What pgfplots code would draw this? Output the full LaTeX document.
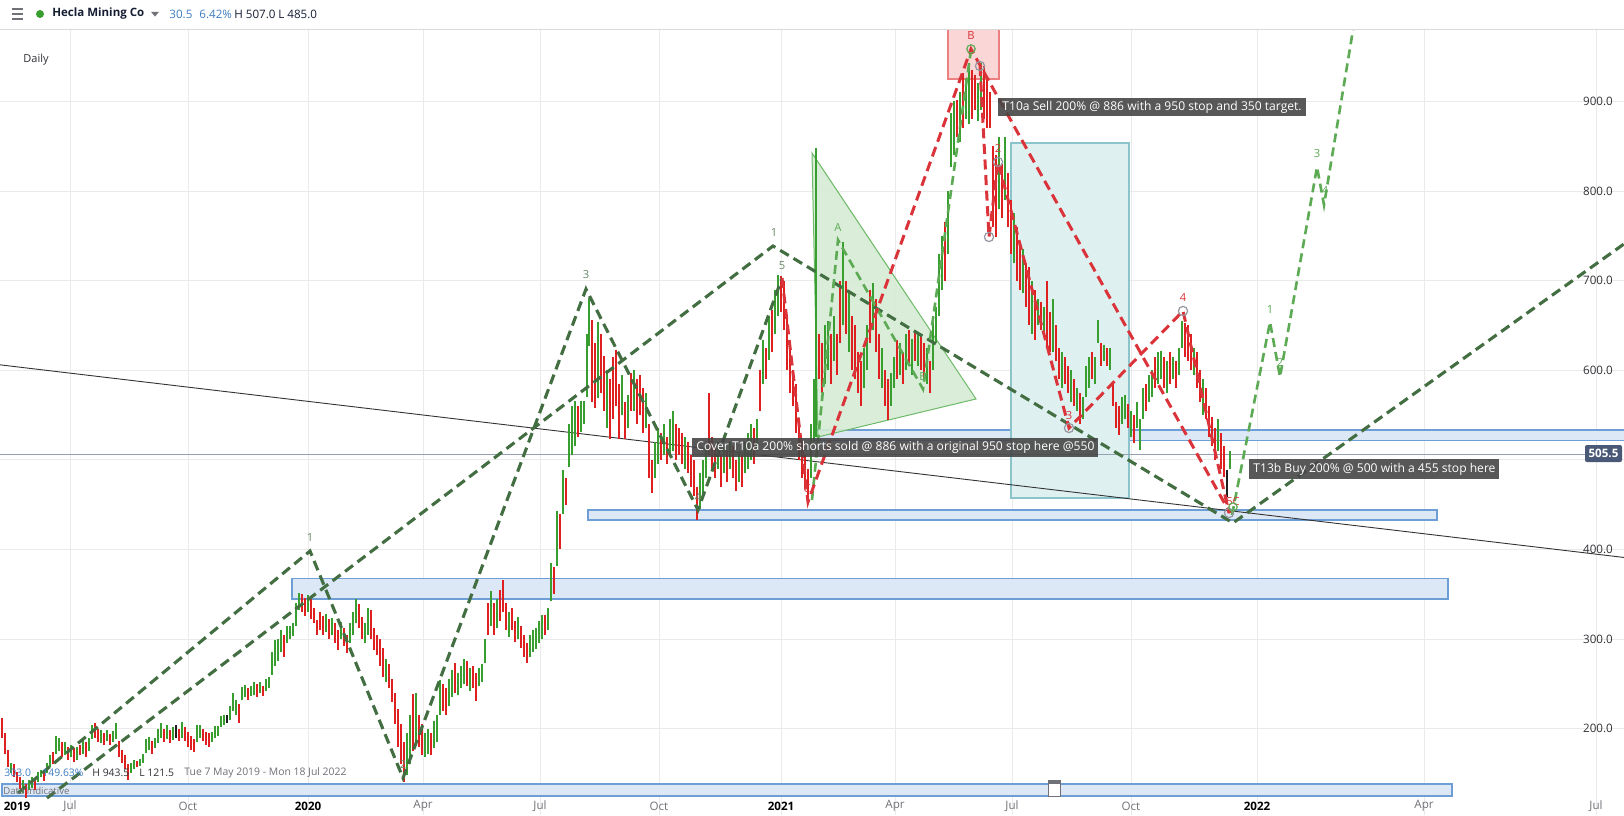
\documentclass[border=0pt]{standalone}
\usepackage{fontspec}
\setmainfont{Open Sans}
\usepackage{pgfplots}
\pgfplotsset{compat=1.18}
\usepackage{pgfplotstable}

\definecolor{upc}{RGB}{56,158,48}
\definecolor{dnc}{RGB}{222,32,32}
\definecolor{dojc}{RGB}{30,30,30}
\definecolor{wavedk}{RGB}{66,110,66}
\definecolor{wavelt}{RGB}{92,170,84}
\definecolor{wavered}{RGB}{218,52,58}
\definecolor{zonefill}{RGB}{220,232,246}
\definecolor{zoneline}{RGB}{110,158,214}
\definecolor{tealfill}{RGB}{223,240,241}
\definecolor{tealline}{RGB}{140,196,204}
\definecolor{pinkfill}{RGB}{250,214,214}
\definecolor{pinkline}{RGB}{236,128,128}
\definecolor{trifill}{RGB}{214,236,212}
\definecolor{triline}{RGB}{110,186,104}
\definecolor{gridc}{RGB}{234,234,234}
\definecolor{boxc}{RGB}{70,70,70}
\definecolor{lastc}{RGB}{72,88,118}
\definecolor{lastline}{RGB}{150,160,180}
\definecolor{txtc}{RGB}{50,50,55}
\definecolor{graytxt}{RGB}{112,112,120}
\definecolor{bluetxt}{RGB}{62,126,192}
\definecolor{navytxt}{RGB}{22,30,52}
\definecolor{ringc}{RGB}{150,150,160}

\newcommand\fs[1]{\fontsize{#1}{#1}\selectfont}

% daily bars: x = chart position, l/h = low/high, c = 1 up, 0 down, 2 flat
\pgfplotstableread{
x l h c
2 190 212 0
5 172 195 0
8 157 176 0
11 150 162 1
14 146 160 0
17 140 152 0
20 133 146 0
23 128 143 1
26 123 138 0
29 131 143 1
32 134 146 1
35 131 144 0
38 140 152 1
41 146 154 1
44 142 152 0
47 150 162 1
50 157 170 1
53 160 174 0
56 172 192 1
59 175 190 1
62 168 185 0
65 170 185 1
68 165 180 0
71 168 182 1
74 163 178 0
77 165 180 1
80 170 182 0
83 172 187 1
86 168 185 0
89 175 190 1
92 188 204 1
95 190 206 0
98 185 200 0
101 184 198 1
104 182 195 0
107 186 198 1
110 182 194 0
113 185 197 1
116 188 206 1
119 168 186 0
122 162 176 0
125 155 170 0
128 143 160 0
131 150 162 1
134 155 165 1
137 157 164 0
140 158 166 1
143 162 172 1
146 173 188 1
149 176 191 1
152 172 186 0
155 178 190 1
158 184 200 1
161 190 206 1
164 185 200 0
167 188 204 1
170 184 198 0
173 187 202 1
176 190 204 2
179 186 200 0
182 190 207 1
185 186 202 0
188 180 196 0
191 176 192 0
194 174 188 0
197 185 204 1
200 190 204 1
203 186 200 0
206 182 196 0
209 180 195 0
212 185 196 1
215 190 203 1
218 192 203 1
221 202 214 1
224 204 215 1
227 206 215 2
230 210 225 1
233 220 240 1
236 215 232 1
239 206 228 0
242 232 246 1
245 235 249 1
248 232 245 0
251 236 248 1
254 238 252 1
257 235 250 0
260 240 252 1
263 236 248 0
266 242 255 1
269 245 258 1
272 260 285 1
275 270 299 1
278 276 300 1
281 285 310 1
284 280 305 0
287 296 315 1
290 300 314 1
293 303 318 1
296 315 340 1
299 332 351 1
302 330 350 0
305 326 346 0
308 330 349 1
311 322 345 0
314 318 335 0
317 304 321 0
320 310 330 0
323 305 326 0
326 308 328 1
329 300 322 0
332 305 324 1
335 295 318 0
338 288 310 0
341 300 319 1
344 292 312 0
347 284 305 0
350 296 318 1
353 305 330 1
356 318 345 1
359 312 339 0
362 300 325 0
365 295 318 1
368 305 335 1
371 300 332 0
374 288 312 0
377 282 305 0
380 270 300 0
383 258 290 0
386 252 278 1
389 245 272 0
392 230 255 0
395 205 240 0
398 180 222 0
401 160 205 0
404 140 185 0
407 148 195 1
410 160 215 1
413 175 239 0
416 185 240 1
419 180 215 0
422 170 205 0
425 168 195 1
428 172 200 1
431 170 195 0
434 178 208 1
437 185 215 1
440 215 254 1
443 220 250 0
446 215 245 0
449 225 255 1
452 235 265 1
455 240 273 0
458 238 262 1
461 245 270 1
464 250 278 1
467 248 275 0
470 242 268 1
473 245 270 0
476 231 262 0
479 248 268 1
482 252 272 1
485 273 300 1
488 305 340 0
491 315 354 1
494 305 340 0
497 312 345 1
500 320 355 0
503 330 366 0
506 310 340 0
509 302 330 1
512 310 335 0
515 297 320 0
518 300 325 1
521 290 315 0
524 280 305 0
527 273 296 0
530 280 305 1
533 285 310 1
536 289 312 1
539 295 320 1
542 300 327 1
545 305 327 0
548 310 335 1
551 342 385 1
554 350 380 0
557 381 443 1
560 400 440 0
563 439 489 1
566 450 480 0
569 492 540 1
572 505 560 1
575 515 566 1
578 525 560 0
581 531 566 1
584 540 566 1
587 570 640 1
589 627 681 1
592 565 656 0
595 558 630 0
598 569 654 1
601 575 640 0
604 555 616 0
607 535 600 1
610 523 590 0
613 545 615 0
616 560 623 0
619 523 585 0
622 550 595 1
625 523 565 0
628 535 572 1
631 555 597 0
634 555 600 1
637 540 590 0
640 550 595 0
643 530 580 0
646 535 575 1
649 480 540 0
652 463 500 0
655 480 520 1
658 495 535 1
661 500 530 0
664 505 540 1
667 495 525 0
670 505 545 1
673 510 555 1
676 500 540 0
679 505 535 0
682 495 530 0
685 490 525 1
688 485 520 0
691 470 505 0
694 460 500 0
697 433 470 0
700 445 485 1
703 460 500 1
706 480 515 1
709 505 575 0
712 490 525 0
715 480 515 0
718 490 520 1
721 470 505 0
724 485 515 1
727 475 510 0
730 490 520 1
733 480 515 0
736 465 500 0
739 475 510 1
742 470 505 0
745 485 520 1
748 490 530 1
751 500 540 1
754 495 535 0
757 510 545 1
760 555 600 0
763 585 634 1
766 590 625 0
769 611 660 1
772 620 667 0
775 640 690 1
778 660 706 1
781 665 705 0
784 645 700 0
787 600 660 0
790 575 630 0
793 560 600 0
796 530 585 0
799 500 540 0
802 480 520 0
805 470 505 0
808 453 490 0
811 480 540 1
814 520 590 1
816 525 848 1
819 590 640 0
822 575 630 0
825 585 650 1
828 600 655 1
831 585 640 0
834 610 660 1
837 595 640 0
840 630 700 0
843 650 743 1
846 640 700 0
849 620 690 1
852 600 660 0
855 590 650 0
858 575 620 0
861 560 610 0
864 580 625 1
867 600 650 1
870 630 690 0
873 645 697 1
876 620 680 0
879 590 640 0
882 580 625 1
885 560 600 0
888 544 590 0
891 560 597 1
894 580 615 1
897 590 634 0
900 595 630 1
903 585 620 0
906 600 640 1
909 605 645 0
912 595 635 1
915 610 645 0
918 605 640 1
921 600 640 0
924 590 630 0
927 585 625 1
930 575 610 0
933 600 660 1
936 630 670 1
939 660 730 1
942 690 750 1
945 700 765 0
948 730 800 1
951 827 887 1
954 840 900 1
957 860 902 0
960 855 910 1
963 870 932 0
966 880 925 1
969 875 943 1
972 880 935 0
975 890 930 0
978 878 920 1
981 890 943 1
984 880 940 0
987 870 925 0
990 870 910 0
993 760 850 0
996 749 840 0
999 780 860 1
1002 770 830 0
1005 790 860 1
1008 760 820 0
1011 730 790 0
1014 720 775 1
1017 700 760 0
1020 690 740 0
1023 686 735 1
1026 670 720 0
1029 650 715 0
1032 640 700 1
1035 634 690 0
1038 650 680 1
1041 645 676 0
1044 640 670 1
1047 625 700 0
1050 620 665 0
1053 620 680 1
1056 610 650 0
1059 590 625 0
1062 580 620 1
1065 585 615 0
1068 575 605 0
1071 565 600 1
1074 560 590 0
1077 555 580 1
1080 540 575 0
1083 545 570 1
1086 570 605 1
1089 580 615 1
1092 590 620 0
1095 585 615 1
1098 630 656 1
1101 605 630 0
1104 610 628 1
1107 605 625 0
1110 600 625 1
1113 560 585 0
1116 535 565 0
1119 528 560 0
1122 540 570 1
1125 545 572 1
1128 535 562 0
1131 525 555 1
1134 519 550 0
1137 535 565 1
1140 511 545 1
1143 545 580 1
1146 555 585 0
1149 565 595 1
1152 570 600 1
1155 580 615 0
1158 585 620 1
1161 590 622 1
1164 580 615 0
1167 575 610 1
1170 585 620 0
1173 590 615 1
1176 580 610 0
1179 595 625 1
1182 625 655 1
1185 615 653 0
1188 610 650 0
1191 600 640 0
1194 595 625 1
1197 580 620 0
1200 565 600 0
1203 550 590 1
1206 545 580 0
1209 525 560 0
1212 515 548 0
1215 500 535 0
1218 510 545 1
1221 490 530 0
1224 481 515 0
1227 458 489 2
1230 490 510 1
}\bars

\pgfplotsset{
  hl/.style={only marks, mark=*, mark size=0.01pt, mark options={draw opacity=0, fill opacity=0},
    error bars/.cd, y dir=both, y explicit, error mark=none,
    error bar style={draw=#1, line width=0.75pt, draw opacity=1}},
  dk/.style={wavedk, line width=1.55pt, dash pattern=on 5pt off 2.8pt},
  lt/.style={wavelt, line width=1.3pt, dash pattern=on 4.5pt off 2.6pt},
  rd/.style={wavered, line width=1.5pt, dash pattern=on 5pt off 2.8pt},
}

\begin{document}
\begin{tikzpicture}
\fill[white] (0,0) rectangle (812pt,407.5pt);
\begin{axis}[
  at={(0,0)}, anchor=south west,
  scale only axis, width=812pt, height=392.5pt,
  xmin=0, xmax=1624, ymin=103.58, ymax=979.7,
  axis line style={draw=none},
  tick style={draw=none},
  xtick={70,188,308,423,540,659,781,895,1012,1131,1257,1424,1596},
  ytick={200,300,400,500,600,700,800,900},
  xticklabels={}, yticklabels={},
  grid=major, grid style={gridc, line width=0.5pt},
  clip=true,
]
% zones
\addplot[draw=zoneline, fill=zonefill, line width=0.6pt] coordinates {(2,124.8) (1452,124.8) (1452,138.2) (2,138.2)} -- cycle;
\addplot[draw=zoneline, fill=zonefill, line width=0.6pt] coordinates {(292,344.6) (1448,344.6) (1448,367.5) (292,367.5)} -- cycle;
\addplot[draw=zoneline, fill=zonefill, line width=0.6pt] coordinates {(588,432.8) (1437,432.8) (1437,444.0) (588,444.0)} -- cycle;
\addplot[draw=zoneline, fill=zonefill, line width=0.6pt] coordinates {(814,521.3) (1630,521.3) (1630,533.3) (814,533.3)} -- cycle;
\addplot[draw=pinkline, fill=pinkfill, line width=0.6pt] coordinates {(948,925.0) (999,925.0) (999,990) (948,990)} -- cycle;
\addplot[draw=tealline, fill=tealfill, line width=0.6pt] coordinates {(1011,457.4) (1129,457.4) (1129,853.6) (1011,853.6)} -- cycle;
\addplot[draw=triline, fill=trifill, fill opacity=0.9, line width=0.5pt] coordinates {(812,842.4) (976,567.9) (818,525.5)} -- cycle;
% calendar handle
\addplot[draw=graytxt, fill=white, line width=0.5pt] coordinates {(1048,123.7) (1060,123.7) (1060,142.6) (1048,142.6)} -- cycle;
\addplot[draw=none, fill=graytxt] coordinates {(1048,138.5) (1060,138.5) (1060,142.6) (1048,142.6)} -- cycle;
% trend line and last price
\addplot[black!80, line width=0.45pt] coordinates {(0,606) (1624,391)};
\addplot[lastline, line width=0.5pt] coordinates {(0,505.5) (1585,505.5)};
% price bars
\addplot[restrict expr to domain={\thisrow{c}}{0.5:1.5}, hl=upc]
  table[x=x, y expr={(\thisrow{l}+\thisrow{h})/2}, y error expr={(\thisrow{h}-\thisrow{l})/2}] {\bars};
\addplot[restrict expr to domain={\thisrow{c}}{-0.5:0.5}, hl=dnc]
  table[x=x, y expr={(\thisrow{l}+\thisrow{h})/2}, y error expr={(\thisrow{h}-\thisrow{l})/2}] {\bars};
\addplot[restrict expr to domain={\thisrow{c}}{1.5:2.5}, hl=dojc]
  table[x=x, y expr={(\thisrow{l}+\thisrow{h})/2}, y error expr={(\thisrow{h}-\thisrow{l})/2}] {\bars};
% wave counts
\addplot[dk] coordinates {(18,128.1) (310,398.2) (403,144.9) (586,690.6) (698,444.0) (782,702.9)};
\addplot[dk] coordinates {(47,122.5) (773,738.6) (1233,429.5) (1624,740.9)};
\addplot[lt] coordinates {(812,455.1) (838,745.3) (923,579.0) (971,957.4)};
\addplot[lt] coordinates {(1232,438.4) (1270,653.8) (1280,592.4) (1317,826.8) (1324,784.4) (1353,979.7)};
\addplot[rd] coordinates {(782,702.9) (808,452.9) (971,958.5) (1230,440.6)};
\addplot[rd] coordinates {(980,939.5) (989,748.7) (998,832.4) (1069,535.5) (1183,666.1) (1229,440.6)};
\addplot[only marks, mark=o, mark size=2.3pt, ringc, mark options={line width=0.6pt, fill=white, fill opacity=0.6}]
  coordinates {(980,939.5) (989,748.7) (998,832.4) (1069,535.5) (1183,666.1) (1229,440.6)};
\addplot[only marks, mark=o, mark size=2.1pt, wavelt, mark options={line width=0.6pt}]
  coordinates {(971,958.5) (1233,447.3)};

% labels on the waves
\begin{scope}[every node/.style={inner sep=0pt, font=\fs{5.6}}]
\node[text=wavedk!80] at (axis cs:310,413.8) {1};
\node[text=wavedk!80] at (axis cs:403,160.5) {2};
\node[text=wavedk!80] at (axis cs:586,706.3) {3};
\node[text=wavedk!80] at (axis cs:698,457.4) {4};
\node[text=wavedk!80] at (axis cs:782,716.3) {5};
\node[text=wavedk!80] at (axis cs:774,753.2) {1};
\node[text=wavelt] at (axis cs:838,759.8) {A};
\node[text=wavelt] at (axis cs:923,593.5) {B};
\node[text=wavelt] at (axis cs:1270,668.3) {1};
\node[text=wavelt] at (axis cs:1280,609.2) {2};
\node[text=wavelt] at (axis cs:1317,842.4) {3};
\node[text=wavelt] at (axis cs:1325,801.1) {4};
\node[text=wavered] at (axis cs:971,973.0) {B};
\node[text=wavered] at (axis cs:998,848.0) {2};
\node[text=wavered] at (axis cs:1069,550.0) {3};
\node[text=wavered] at (axis cs:1183,681.7) {4};
\node[text=wavered] at (axis cs:1233,454.0) {5C};
\node[text=wavered] at (axis cs:807,468.5) {C};
\end{scope}

% comment boxes
\begin{scope}[every node/.style={anchor=west, fill=boxc, fill opacity=0.9, text opacity=1, text=white,
    inner xsep=2pt, inner ysep=0pt, font=\fs{6.05}}]
\node[minimum height=9pt] at (axis cs:998,893.8) {T10a Sell 200\% @ 886 with a 950 stop and 350 target.};
\node[minimum height=9.5pt] at (axis cs:692,513.7) {Cover T10a 200\% shorts sold @ 886 with a original 950 stop here @550};
\node[minimum height=10pt] at (axis cs:1249,489.8) {T13b Buy 200\% @ 500 with a 455 stop here};
\end{scope}

% last price tag
\node[fill=lastc, rounded corners=1pt, text=white, inner sep=0pt, minimum width=18.5pt, minimum height=8.5pt,
  font=\fs{5.8}\bfseries] at (axis cs:1603.5,507) {505.5};

% price scale
\begin{scope}[every node/.style={inner sep=0pt, font=\fs{5.8}, text=txtc}]
\node at (axis cs:1598,900) {900.0};
\node at (axis cs:1598,800) {800.0};
\node at (axis cs:1598,700) {700.0};
\node at (axis cs:1598,600) {600.0};
\node at (axis cs:1598,400) {400.0};
\node at (axis cs:1598,300) {300.0};
\node at (axis cs:1598,200) {200.0};
\end{scope}

% time scale
\begin{scope}[every node/.style={inner sep=0pt, font=\fs{5.8}, text=graytxt}]
\node[text=black, font=\fs{5.8}\bfseries] at (axis cs:17,113.6) {2019};
\node at (axis cs:70,113.6) {Jul};
\node at (axis cs:188,113.6) {Oct};
\node[text=black, font=\fs{5.8}\bfseries] at (axis cs:308,113.6) {2020};
\node at (axis cs:423,113.6) {Apr};
\node at (axis cs:540,113.6) {Jul};
\node at (axis cs:659,113.6) {Oct};
\node[text=black, font=\fs{5.8}\bfseries] at (axis cs:781,113.6) {2021};
\node at (axis cs:895,113.6) {Apr};
\node at (axis cs:1012,113.6) {Jul};
\node at (axis cs:1131,113.6) {Oct};
\node[text=black, font=\fs{5.8}\bfseries] at (axis cs:1257,113.6) {2022};
\node at (axis cs:1424,113.6) {Apr};
\node at (axis cs:1596,113.6) {Jul};
\end{scope}

% corner texts
\begin{scope}[every node/.style={inner sep=0pt, anchor=west, font=\fs{5.2}}]
\node[text=txtc, font=\fs{5.5}] at (axis cs:23,946.2) {Daily};
\node[text=bluetxt] at (axis cs:4,150.4) {303.0};
\node[text=bluetxt] at (axis cs:42,150.4) {149.63\%};
\node[text=txtc] at (axis cs:92,150.4) {H 943.5};
\node[text=txtc] at (axis cs:139,150.4) {L 121.5};
\node[text=graytxt] at (axis cs:184,150.4) {Tue 7 May 2019 - Mon 18 Jul 2022};
\node[text=graytxt, font=\fs{4.8}] at (axis cs:3,130.4) {Data indicative};
\end{scope}
\end{axis}

% header bar
\draw[gray!30, line width=0.5pt] (0,392.8pt) -- (812pt,392.8pt);
\draw[graytxt, line width=0.6pt] (6pt,403pt) -- (11.5pt,403pt) (6pt,400.5pt) -- (11.5pt,400.5pt) (6pt,398pt) -- (11.5pt,398pt);
\fill[upc] (20pt,400.5pt) circle (2pt);
\node[anchor=west, inner sep=0pt, text=navytxt, font=\fs{5.75}\bfseries] at (26pt,400.5pt) {Hecla Mining Co};
\fill[graytxt] (75.5pt,401.6pt) -- (79.5pt,401.6pt) -- (77.5pt,399.2pt) -- cycle;
\begin{scope}[every node/.style={anchor=west, inner sep=0pt, font=\fs{5.8}}]
\node[text=bluetxt] at (84.5pt,400.5pt) {30.5};
\node[text=bluetxt] at (99.5pt,400.5pt) {6.42\%};
\node[text=navytxt] at (117pt,400.5pt) {H 507.0};
\node[text=navytxt] at (139pt,400.5pt) {L 485.0};
\end{scope}
\pgfresetboundingbox
\path[use as bounding box] (0,0) rectangle (812pt,407.5pt);
\end{tikzpicture}
\end{document}
